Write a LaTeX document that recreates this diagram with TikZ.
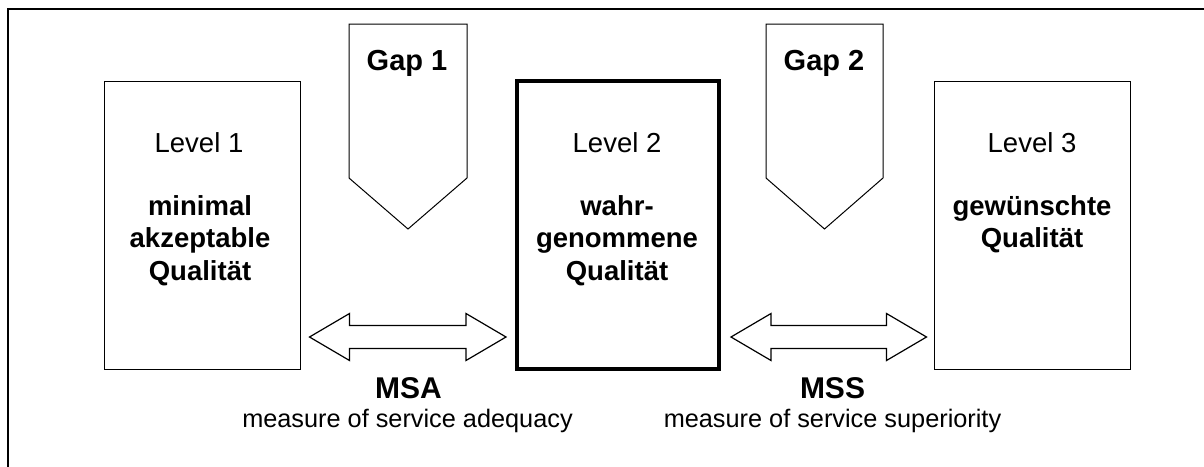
\documentclass[tikz,border=0pt]{standalone}
\usepackage{fontspec}
\setmainfont{Liberation Sans}
\usetikzlibrary{calc}
\newcommand\dblarrow[2]{%
  \draw[arrshape] (#1) -- ($(#1)+(40,-23.5)$) -- ($(#1)+(40,-11.5)$) -- ($(#2)+(-40,-11.5)$) -- ($(#2)+(-40,-23.5)$) -- (#2)
    -- ($(#2)+(-40,23.5)$) -- ($(#2)+(-40,11.5)$) -- ($(#1)+(40,11.5)$) -- ($(#1)+(40,23.5)$) -- cycle;}
\begin{document}
\begin{tikzpicture}[x=1pt,y=-1pt,
  lvl/.style={draw, line width=1pt, minimum width=196pt, minimum height=288pt, inner sep=0pt},
  lvlthick/.style={lvl, line width=4pt, minimum width=202pt},
  gapshape/.style={draw, line width=1pt, fill=white},
  arrshape/.style={draw, line width=1.2pt, fill=white, line join=miter},
  txt/.style={font=\fontsize{27.5}{33}\selectfont, anchor=base, inner sep=0pt},
  btxt/.style={txt, font=\fontsize{27.5}{33}\selectfont\bfseries},
  gtxt/.style={txt, font=\fontsize{29}{33}\selectfont\bfseries},
  mtxt/.style={txt, font=\fontsize{30}{33}\selectfont\bfseries},
  stxt/.style={txt, font=\fontsize{25.3}{30}\selectfont}]
\useasboundingbox (0,0) rectangle (1204,466);
\draw[line width=2pt] (8,470) -- (8,8.5) -- (1210,8.5);
% level boxes
\node[lvl] (L1) at (202,225) {};
\node[lvlthick] (L2) at (618,225) {};
\node[lvl] (L3) at (1032,225) {};
% gap pentagons
\draw[gapshape] (349,24) -- (467,24) -- (467,178) -- (408,229) -- (349,178) -- cycle;
\draw[gapshape] (766,24) -- (883,24) -- (883,178) -- (824.5,229) -- (766,178) -- cycle;
\node[gtxt] (g1) at (407,70) {Gap 1};
\node[gtxt] (g2) at (824,70) {Gap 2};
% texts
\node[txt] (l1a) at (199,152) {Level 1};
\node[btxt] (l1b) at (200,215) {minimal};
\node[btxt] (l1c) at (200,247.5) {akzeptable};
\node[btxt] (l1d) at (200,280) {Qualität};
\node[txt] (l2a) at (617,152) {Level 2};
\node[btxt] (l2b) at (617,215) {wahr-};
\node[btxt] (l2c) at (617,247.5) {genommene};
\node[btxt] (l2d) at (617,280) {Qualität};
\node[txt] (l3a) at (1032,152) {Level 3};
\node[btxt] (l3b) at (1032,215) {gewünschte};
\node[btxt] (l3c) at (1032,247.5) {Qualität};
% double arrows
\coordinate (a1s) at ($(L1.east |- 0,337)+(9,0)$);
\coordinate (a1e) at ($(L2.west |- 0,337)+(-9,0)$);
\coordinate (a2s) at ($(L2.east |- 0,337)+(10,0)$);
\coordinate (a2e) at ($(L3.west |- 0,337)+(-7,0)$);
\dblarrow{a1s}{a1e}
\dblarrow{a2s}{a2e}
% labels
\node[mtxt] (msa) at (408.5,398) {MSA};
\node[stxt] (msat) at (407.5,427.5) {measure of service adequacy};
\node[mtxt] (mss) at (832.5,398) {MSS};
\node[stxt] (msst) at (832.5,427.5) {measure of service superiority};
\end{tikzpicture}
\end{document}
